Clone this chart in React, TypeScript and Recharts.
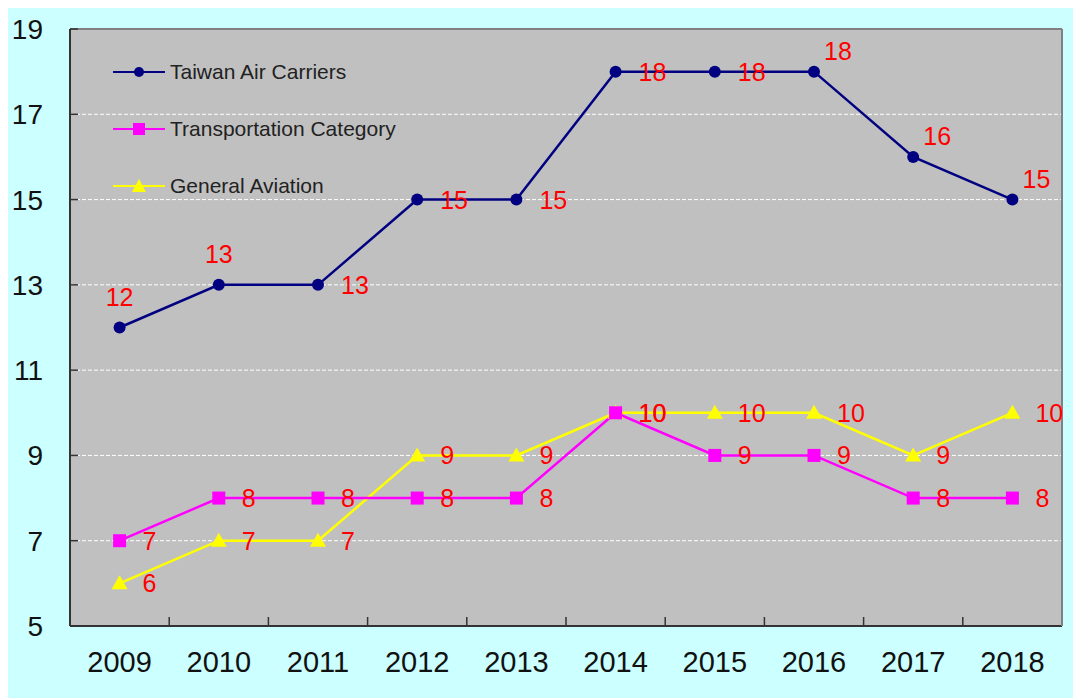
import { LineChart, Line, XAxis, YAxis, CartesianGrid, Legend, ReferenceLine } from 'recharts';

// Values
const years = ['2009', '2010', '2011', '2012', '2013', '2014', '2015', '2016', '2017', '2018'];
const taiwanAirCarriers = [12, 13, 13, 15, 15, 18, 18, 18, 16, 15];
const transportationCategory = [7, 8, 8, 8, 8, 10, 9, 9, 8, 8];
const generalAviation = [6, 7, 7, 9, 9, 10, 10, 10, 9, 10];
const yTicks = [5, 7, 9, 11, 13, 15, 17, 19];

// where each value label sits relative to its point
const taiwanLabelSpots = ['up', 'up', 'right', 'right', 'right', 'right', 'right', 'upright', 'upright', 'upright'];
const rightSpots = years.map(() => 'right');

const data = years.map((year, i) => ({
  year,
  taiwan: taiwanAirCarriers[i],
  transport: transportationCategory[i],
  ga: generalAviation[i],
}));

const W = 1073;
const H = 690;
const HALF_STEP = 49.6; // half a category width, for the boundary ticks
const FONT = "'Liberation Sans', Arial, sans-serif";

const makeLabel = (spots: string[]) => (props: any) => {
  const { x, y, index, value } = props;
  const spot = spots[index];
  let tx = x + 23;
  let ty = y + 9;
  let anchor: 'start' | 'middle' = 'start';
  if (spot === 'up') {
    tx = x;
    ty = y - 22;
    anchor = 'middle';
  } else if (spot === 'upright') {
    tx = x + 24;
    ty = y - 12;
    anchor = 'middle';
  }
  return (
    <text key={`lbl-${index}`} x={tx} y={ty} textAnchor={anchor} fill="#ff0000" fontSize={25} fontFamily={FONT}>
      {value}
    </text>
  );
};

const XTick = (props: any) => {
  const { x, y, payload, index } = props;
  return (
    <g>
      {index < years.length - 1 && (
        <line x1={x + HALF_STEP} x2={x + HALF_STEP} y1={y} y2={y - 9} stroke="#333" strokeWidth={1.5} />
      )}
      <text x={x} y={y + 46} textAnchor="middle" fill="#111" fontSize={29} fontFamily={FONT}>
        {payload.value}
      </text>
    </g>
  );
};

const legendItems = [
  { name: 'Taiwan Air Carriers', color: '#000080', shape: 'circle' },
  { name: 'Transportation Category', color: '#ff00ff', shape: 'square' },
  { name: 'General Aviation', color: '#ffff00', shape: 'triangle' },
];

const LegendBox = () => (
  <div style={{ fontFamily: FONT }}>
    {legendItems.map((item) => (
      <div key={item.name} style={{ display: 'flex', alignItems: 'center', height: 57 }}>
        <svg width={52} height={20}>
          <line x1={0} x2={52} y1={10} y2={10} stroke={item.color} strokeWidth={2} />
          {item.shape === 'circle' && <circle cx={26} cy={10} r={5} fill={item.color} />}
          {item.shape === 'square' && <rect x={20} y={4} width={12} height={12} fill={item.color} />}
          {item.shape === 'triangle' && <polygon points="26,3 33,16 19,16" fill={item.color} />}
        </svg>
        <span style={{ marginLeft: 5, fontSize: 21, color: '#222' }}>{item.name}</span>
      </div>
    ))}
  </div>
);

export default function App() {
  return (
    <div style={{ width: W, height: H, background: '#ccffff' }}>
      <LineChart width={W} height={H} data={data} margin={{ top: 21, right: 18, left: 0, bottom: 0 }}>
        <CartesianGrid vertical={false} fill="#c0c0c0" stroke="#ffffff" strokeDasharray="4 2" />
        <XAxis
          dataKey="year"
          height={72}
          padding={{ left: HALF_STEP, right: HALF_STEP }}
          axisLine={{ stroke: '#333', strokeWidth: 2 }}
          tickLine={false}
          tickSize={0}
          tickMargin={0}
          interval={0}
          tick={<XTick />}
        />
        <YAxis
          domain={[5, 19]}
          ticks={yTicks}
          width={62}
          interval={0}
          axisLine={{ stroke: '#333', strokeWidth: 2 }}
          tickLine={{ stroke: '#333', strokeWidth: 1.5 }}
          tickSize={-8}
          tickMargin={35}
          tick={{ fill: '#111', fontSize: 28, fontFamily: FONT }}
        />
        <YAxis
          yAxisId="r"
          orientation="right"
          domain={[5, 19]}
          width={1}
          tick={false}
          tickLine={false}
          axisLine={{ stroke: '#808080', strokeWidth: 2 }}
        />
        <ReferenceLine y={19} stroke="#808080" strokeWidth={2} />
        <Legend
          layout="horizontal"
          verticalAlign="middle"
          align="center"
          wrapperStyle={{ left: 105, top: 35, width: 'auto' }}
          content={<LegendBox />}
        />
        <Line
          dataKey="taiwan"
          stroke="#000080"
          strokeWidth={2.5}
          dot={{ r: 6, fill: '#000080', stroke: '#000080', strokeWidth: 0 }}
          label={makeLabel(taiwanLabelSpots)}
          isAnimationActive={false}
        />
        <Line
          dataKey="ga"
          stroke="#ffff00"
          strokeWidth={2.5}
          dot={(p: any) => (
            <polygon
              key={`tri-${p.index}`}
              points={`${p.cx},${p.cy - 8} ${p.cx + 8},${p.cy + 6} ${p.cx - 8},${p.cy + 6}`}
              fill="#ffff00"
            />
          )}
          label={makeLabel(rightSpots)}
          isAnimationActive={false}
        />
        <Line
          dataKey="transport"
          stroke="#ff00ff"
          strokeWidth={2.5}
          dot={(p: any) => (
            <rect key={`sq-${p.index}`} x={p.cx - 6.5} y={p.cy - 6.5} width={13} height={13} fill="#ff00ff" />
          )}
          label={makeLabel(rightSpots)}
          isAnimationActive={false}
        />
      </LineChart>
    </div>
  );
}
